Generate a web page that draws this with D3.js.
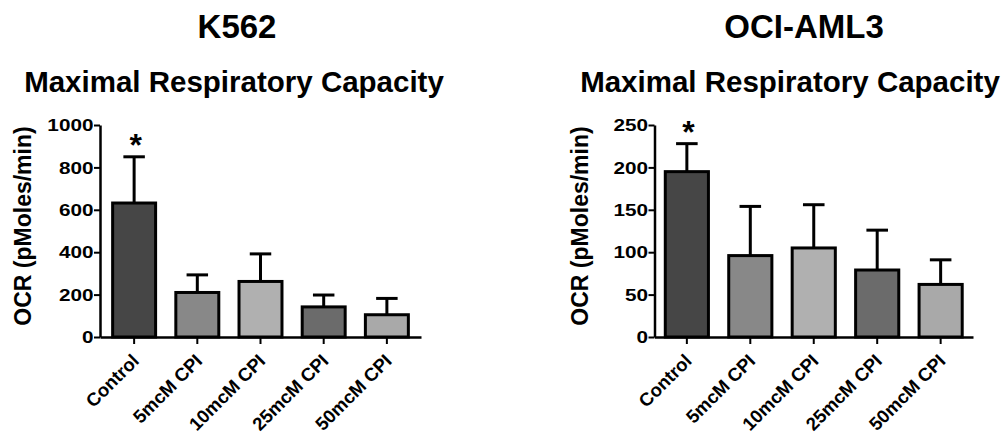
<!DOCTYPE html>
<html>
<head>
<meta charset="utf-8">
<script src="https://cdn.jsdelivr.net/npm/d3@7"></script>
<style>
  html, body { margin: 0; padding: 0; background: #fff; }
  svg { display: block; }
  text { font-family: "Liberation Sans", Arial, Helvetica, sans-serif; font-weight: bold; fill: #000; }
</style>
</head>
<body>
<svg id="chart" width="1007" height="436"></svg>
<script>
// ---- data ----
const categories = ["Control", "5mcM CPI", "10mcM CPI", "25mcM CPI", "50mcM CPI"];
const k562Means = [632, 210, 262, 142, 105];
const k562Errors = [218, 83, 130, 56, 77];
const k562Sig = ["*", "", "", "", ""];
const k562Ticks = [0, 200, 400, 600, 800, 1000];
const amlMeans = [195, 96, 105, 79, 62];
const amlErrors = [33, 58, 51, 47, 29];
const amlSig = ["*", "", "", "", ""];
const amlTicks = [0, 50, 100, 150, 200, 250];
const panelTitles = ["K562", "OCI-AML3"];
const subTitle = "Maximal Respiratory Capacity";
const yTitle = "OCR (pMoles/min)";

// ---- styles ----
const barFills = ["#464646", "#888888", "#b0b0b0", "#6b6b6b", "#a9a9a9"];

const panels = [
  { title: panelTitles[0], means: k562Means, errs: k562Errors, sig: k562Sig, ticks: k562Ticks,
    x0: 100, x1: 421, po: 0.2, titleX: 237, subX: 234, yTitleX: 23 },
  { title: panelTitles[1], means: amlMeans, errs: amlErrors, sig: amlSig, ticks: amlTicks,
    x0: 654.5, x1: 973, po: 0.17, titleX: 804, subX: 790, yTitleX: 580 }
];

const svg = d3.select("#chart");
const yBottom = 337, yTop = 125;
const tickStretch = 1.22;

panels.forEach(p => {
  const g = svg.append("g");
  const y = d3.scaleLinear().domain([0, d3.max(p.ticks)]).range([yBottom, yTop]);
  const x = d3.scaleBand().domain(categories).range([p.x0, p.x1])
    .paddingInner(0.32).paddingOuter(p.po);
  const bw = x.bandwidth();
  const rows = categories.map((c, i) => ({ c, m: p.means[i], e: p.errs[i], s: p.sig[i], fill: barFills[i] }));

  // titles
  g.append("text").attr("x", p.titleX).attr("y", 38).attr("text-anchor", "middle")
    .style("font-size", "33px").text(p.title);
  g.append("text").attr("x", p.subX).attr("y", 92).attr("text-anchor", "middle")
    .style("font-size", "29.5px").text(subTitle);

  // y title
  g.append("text")
    .attr("transform", `translate(${p.yTitleX},${226}) rotate(-90)`)
    .attr("text-anchor", "middle").attr("dominant-baseline", "central")
    .style("font-size", "23px").text(yTitle);

  // error bars
  const eg = g.append("g").attr("stroke", "#000").attr("stroke-width", 3).attr("fill", "none");
  rows.forEach(d => {
    const cx = x(d.c) + bw / 2;
    eg.append("line").attr("x1", cx).attr("x2", cx).attr("y1", y(d.m)).attr("y2", y(d.m + d.e));
    eg.append("line").attr("x1", cx - bw * 0.25).attr("x2", cx + bw * 0.25)
      .attr("y1", y(d.m + d.e)).attr("y2", y(d.m + d.e));
  });

  // bars
  g.append("g").selectAll("rect").data(rows).join("rect")
    .attr("x", d => x(d.c)).attr("width", bw)
    .attr("y", d => y(d.m)).attr("height", d => y(0) - y(d.m))
    .attr("fill", d => d.fill).attr("stroke", "#000").attr("stroke-width", 3);

  // significance
  g.append("g").selectAll("text").data(rows.filter(d => d.s)).join("text")
    .attr("x", d => x(d.c) + bw / 2 + 1.5).attr("y", d => y(d.m + d.e) - 0.5)
    .attr("text-anchor", "middle").style("font-size", "32px").text(d => d.s);

  // y axis (lines from d3 axis; labels drawn from the same scale)
  const ya = g.append("g").attr("transform", `translate(${p.x0},0)`)
    .call(d3.axisLeft(y).tickValues(p.ticks).tickFormat(d3.format("d"))
      .tickSize(6).tickSizeOuter(0).tickPadding(1));
  ya.selectAll("text").remove();
  ya.selectAll("line").attr("stroke-width", 2);
  ya.select(".domain").attr("stroke-width", 2.5);
  g.append("g").selectAll("text").data(p.ticks).join("text")
    .attr("transform", d => `translate(${p.x0 - 6.5},${y(d)}) scale(${tickStretch},1)`)
    .attr("text-anchor", "end").attr("dy", "0.36em")
    .style("font-size", "17px")
    .text(d3.format("d"));

  // x axis
  const xa = g.append("g").attr("transform", `translate(0,${yBottom})`)
    .call(d3.axisBottom(x).tickSize(7).tickSizeOuter(0));
  xa.selectAll("text").remove();
  xa.selectAll("line").attr("stroke-width", 2);
  xa.select(".domain").attr("stroke-width", 2.5);
  g.append("g").selectAll("text").data(categories).join("text")
    .attr("transform", d => `translate(${x(d) + bw / 2 + 6},${yBottom + 25}) rotate(-45)`)
    .attr("text-anchor", "end")
    .style("font-size", "18.5px")
    .text(d => d);
});
</script>
</body>
</html>
